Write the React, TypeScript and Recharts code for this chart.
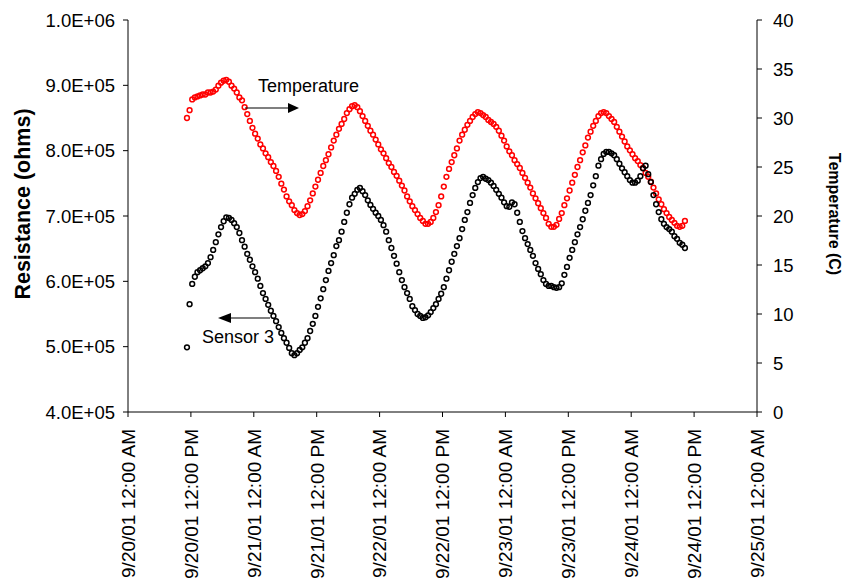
import React from 'react'
import { ScatterChart, Scatter, XAxis, YAxis } from 'recharts'

const FONT = '"Liberation Sans", Arial, sans-serif'

// logger readings, hours after 9/20/01 12:00 AM
const START_HOUR = 11.25
const STEP_HOURS = 0.5

// Temperature (C), right axis
const temperature = [
  30.0, 30.8, 31.9, 32.1, 32.2, 32.3, 32.4, 32.4, 32.6, 32.6,
  32.7, 32.9, 33.3, 33.6, 33.8, 33.9, 33.7, 33.3, 33.0, 32.6,
  32.1, 31.8, 31.1, 30.4, 29.7, 29.0, 28.4, 27.9, 27.3, 26.9,
  26.4, 26.0, 25.5, 25.1, 24.6, 24.0, 23.3, 22.7, 22.0, 21.5,
  21.1, 20.6, 20.3, 20.1, 20.2, 20.5, 21.0, 21.6, 22.3, 23.0,
  23.7, 24.4, 25.1, 25.7, 26.3, 27.0, 27.7, 28.3, 28.9, 29.4,
  29.9, 30.5, 30.9, 31.2, 31.3, 31.1, 30.7, 30.2, 29.7, 29.2,
  28.7, 28.3, 27.8, 27.3, 26.8, 26.4, 25.9, 25.4, 25.0, 24.5,
  24.1, 23.6, 23.1, 22.6, 22.0, 21.5, 21.0, 20.6, 20.2, 19.8,
  19.5, 19.2, 19.2, 19.4, 19.8, 20.4, 21.1, 22.0, 23.0, 24.0,
  24.8, 25.5, 26.2, 26.9, 27.7, 28.3, 28.8, 29.3, 29.7, 30.1,
  30.4, 30.6, 30.5, 30.3, 30.1, 29.8, 29.6, 29.4, 29.1, 28.7,
  28.2, 27.7, 27.1, 26.6, 26.2, 25.7, 25.3, 24.9, 24.4, 23.9,
  23.4, 22.9, 22.3, 21.8, 21.3, 20.8, 20.3, 19.8, 19.2, 18.9,
  18.9, 19.1, 19.7, 20.3, 21.1, 21.8, 22.6, 23.4, 24.2, 25.0,
  25.7, 26.5, 27.2, 28.0, 28.6, 29.2, 29.7, 30.2, 30.5, 30.6,
  30.5, 30.2, 29.9, 29.6, 29.1, 28.6, 28.1, 27.6, 27.1, 26.7,
  26.3, 25.9, 25.6, 25.2, 24.9, 24.4, 24.0, 23.5, 22.9, 22.3,
  21.7, 21.2, 20.7, 20.3, 19.9, 19.6, 19.3, 19.0, 18.9, 19.0,
  19.5,
]

// Sensor 3 resistance (ohms), left axis
const sensor3 = [
  499000, 565000, 596000, 607000, 614000, 617000, 620000, 623000, 628000, 637000,
  648000, 660000, 672000, 683000, 692000, 698000, 697000, 694000, 689000, 683000,
  674000, 663000, 653000, 642000, 633000, 623000, 614000, 604000, 593000, 582000,
  573000, 564000, 555000, 547000, 539000, 530000, 521000, 513000, 506000, 498000,
  490000, 487000, 490000, 495000, 499000, 506000, 513000, 524000, 535000, 547000,
  561000, 574000, 588000, 602000, 616000, 628000, 640000, 654000, 663000, 676000,
  691000, 705000, 718000, 728000, 734000, 740000, 743000, 738000, 732000, 724000,
  717000, 711000, 705000, 700000, 694000, 686000, 676000, 663000, 651000, 639000,
  627000, 614000, 602000, 591000, 582000, 573000, 562000, 556000, 550000, 547000,
  544000, 545000, 548000, 553000, 559000, 565000, 573000, 581000, 591000, 604000,
  617000, 630000, 642000, 654000, 666000, 680000, 694000, 706000, 720000, 732000,
  743000, 752000, 758000, 760000, 757000, 755000, 751000, 746000, 740000, 734000,
  728000, 721000, 715000, 714000, 721000, 718000, 705000, 691000, 677000, 666000,
  657000, 648000, 639000, 628000, 619000, 611000, 602000, 596000, 593000, 593000,
  591000, 590000, 591000, 597000, 610000, 622000, 636000, 648000, 660000, 672000,
  683000, 695000, 708000, 720000, 732000, 747000, 761000, 777000, 787000, 795000,
  798000, 798000, 796000, 793000, 787000, 780000, 773000, 767000, 761000, 755000,
  751000, 751000, 754000, 761000, 773000, 777000, 764000, 752000, 732000, 718000,
  706000, 695000, 688000, 683000, 680000, 676000, 669000, 665000, 659000, 656000,
  651000,
]

const timeTicks = [0, 12, 24, 36, 48, 60, 72, 84, 96, 108, 120]
const resistanceTicks = [400000, 500000, 600000, 700000, 800000, 900000, 1000000]
const temperatureTicks = [0, 5, 10, 15, 20, 25, 30, 35, 40]

const tempData = temperature.map((v, i) => ({ t: START_HOUR + i * STEP_HOURS, value: v }))
const sensorData = sensor3.map((v, i) => ({ t: START_HOUR + i * STEP_HOURS, value: v }))

function formatTime(h: number) {
  const day = 20 + Math.floor(h / 24)
  const ampm = h % 24 < 12 ? 'AM' : 'PM'
  return `9/${day}/01 12:00 ${ampm}`
}

function formatSci(v: number) {
  const e = Math.floor(Math.log10(v))
  const m = v / Math.pow(10, e)
  return `${m.toFixed(1)}E+${String(e).padStart(2, '0')}`
}

function TimeTick(props: any) {
  const { x, y, payload } = props
  return (
    <text
      x={x}
      y={y}
      transform={`rotate(-90, ${x}, ${y})`}
      textAnchor="end"
      dy="0.36em"
      fontSize={19}
      fontFamily={FONT}
      fill="#000"
    >
      {formatTime(payload.value)}
    </text>
  )
}

const ring = (color: string) => (props: any) => (
  <circle cx={props.cx} cy={props.cy} r={2.4} fill="none" stroke={color} strokeWidth={1.5} />
)

export default function App() {
  const tick = { fill: '#000', fontSize: 18.5, fontFamily: FONT }
  return (
    <div style={{ position: 'absolute', left: 0, top: 0, width: 844, height: 578, background: '#fff' }}>
      <ScatterChart width={844} height={578} margin={{ top: 20, right: 0, bottom: 0, left: 0 }}>
        <XAxis
          type="number"
          dataKey="t"
          domain={[0, 120]}
          ticks={timeTicks}
          height={166}
          stroke="#000"
          tickSize={5}
          tickMargin={12}
          tick={<TimeTick />}
          interval={0}
        />
        <YAxis
          yAxisId="left"
          type="number"
          dataKey="value"
          domain={[400000, 1000000]}
          ticks={resistanceTicks}
          tickFormatter={formatSci}
          width={128}
          stroke="#000"
          tickSize={5}
          tickMargin={8}
          tick={tick}
          interval={0}
        />
        <YAxis
          yAxisId="right"
          orientation="right"
          type="number"
          dataKey="value"
          domain={[0, 40]}
          ticks={temperatureTicks}
          width={87}
          stroke="#000"
          tickSize={5}
          tickMargin={11}
          tick={tick}
          interval={0}
        />
        <Scatter yAxisId="right" data={tempData} shape={ring('#ff0000')} isAnimationActive={false} />
        <Scatter yAxisId="left" data={sensorData} shape={ring('#000000')} isAnimationActive={false} />
      </ScatterChart>
      <svg
        width={844}
        height={578}
        style={{ position: 'absolute', left: 0, top: 0, pointerEvents: 'none' }}
        fontFamily={FONT}
      >
        <text
          x={22}
          y={204}
          transform="rotate(-90, 22, 204)"
          textAnchor="middle"
          dy="0.36em"
          fontSize={21.5}
          fontWeight="bold"
          fill="#000"
        >
          Resistance (ohms)
        </text>
        <text
          x={835}
          y={214}
          transform="rotate(90, 835, 214)"
          textAnchor="middle"
          dy="0.36em"
          fontSize={16}
          fontWeight="bold"
          fill="#000"
        >
          Temperature (C)
        </text>
        <text x={258} y={92} fontSize={18} fill="#000">Temperature</text>
        <line x1={245} y1={108} x2={288} y2={108} stroke="#000" strokeWidth={1.2} />
        <polygon points="288,103 299,108 288,113" fill="#000" />
        <text x={202} y={343} fontSize={18} fill="#000">Sensor 3</text>
        <line x1={270} y1={318} x2={231} y2={318} stroke="#000" strokeWidth={1.2} />
        <polygon points="231,313 218,318 231,323" fill="#000" />
      </svg>
    </div>
  )
}
